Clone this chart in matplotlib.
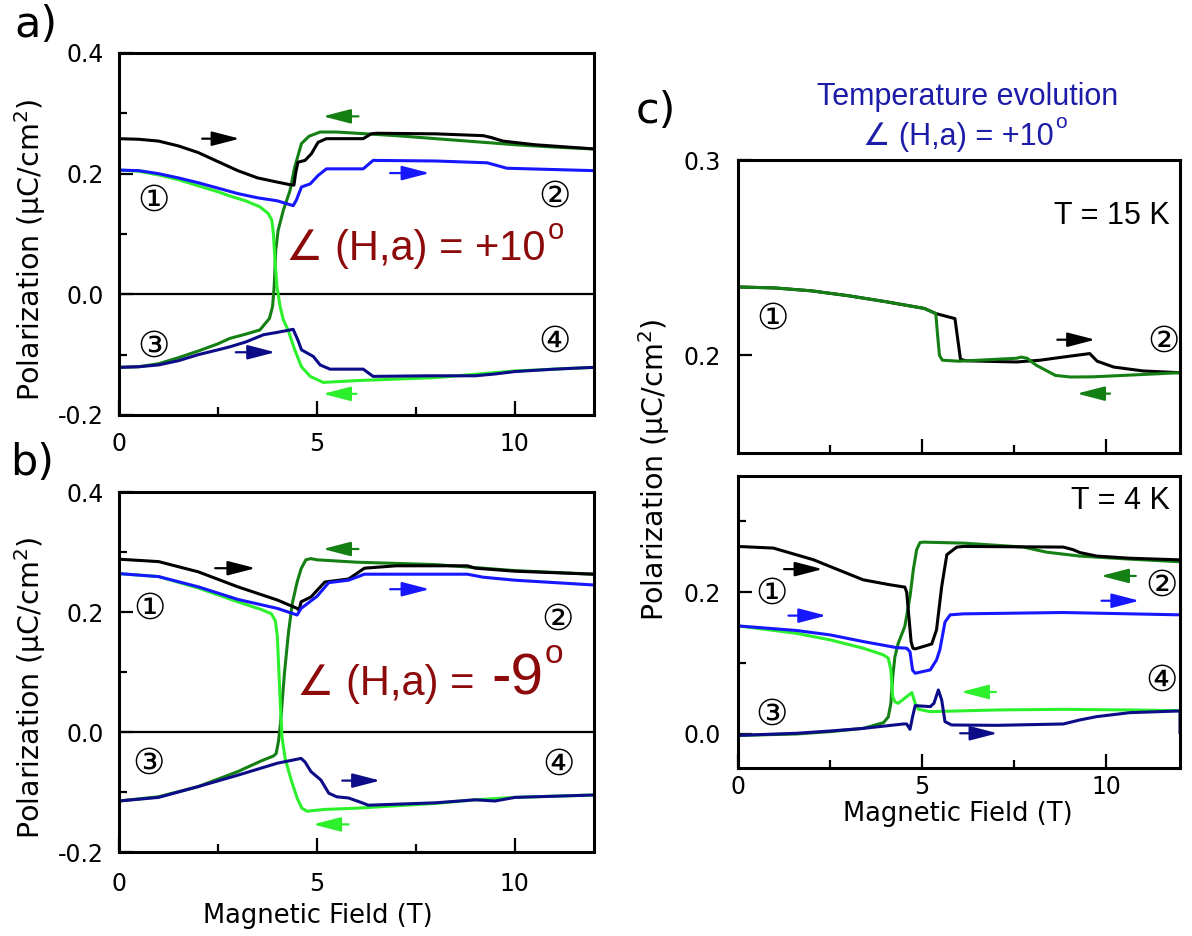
import matplotlib.pyplot as plt
from matplotlib.ticker import FixedLocator, FormatStrFormatter

plt.rcParams['font.family'] = ['DejaVu Sans']
plt.rcParams['mathtext.fontset'] = 'dejavusans'

BLACK = '#000000'
DKGREEN = '#148014'
LTGREEN = '#2cf02c'
BLUE = '#1717ff'
NAVY = '#0c0c88'
ANGLE_RED = '#8c0a0a'
TITLE_BLUE = '#1c1ca8'
SANS = ['Liberation Sans', 'DejaVu Sans']
CIRC = ['DejaVu Serif', 'DejaVu Sans', 'Noto Sans CJK JP']

# ---- panel a: angle +10 deg ----
a_black_x = [0, 0.5, 1.0, 1.5, 2.0, 2.5, 3.0, 3.5, 4.0, 4.3, 4.42, 4.46, 4.52, 4.7, 4.86, 5.03, 5.24, 6.17, 6.37, 6.5, 8.0, 9.2, 9.4, 9.7, 10.5, 12]
a_black_y = [0.258, 0.257, 0.254, 0.246, 0.235, 0.220, 0.205, 0.193, 0.186, 0.182, 0.181, 0.200, 0.219, 0.222, 0.233, 0.252, 0.258, 0.258, 0.266, 0.267, 0.266, 0.263, 0.260, 0.254, 0.248, 0.241]
a_blue_x = [0, 0.5, 1, 1.5, 2, 2.5, 3, 3.5, 4, 4.4, 4.48, 4.61, 4.83, 5.03, 5.24, 6.17, 6.42, 8, 9.3, 9.8, 12]
a_blue_y = [0.206, 0.205, 0.200, 0.193, 0.185, 0.176, 0.167, 0.160, 0.155, 0.147, 0.156, 0.178, 0.183, 0.197, 0.208, 0.208, 0.222, 0.221, 0.218, 0.209, 0.205]
a_ltgreen_x = [0, 0.5, 1, 1.5, 2, 2.5, 2.8, 3.2, 3.56, 3.77, 3.86, 3.9, 3.94, 3.99, 4.07, 4.15, 4.27, 4.44, 4.61, 4.83, 5.16, 6, 8, 10, 12]
a_ltgreen_y = [0.206, 0.204, 0.198, 0.190, 0.180, 0.170, 0.163, 0.155, 0.145, 0.134, 0.123, 0.101, 0.057, 0.013, -0.020, -0.042, -0.059, -0.092, -0.120, -0.136, -0.146, -0.143, -0.138, -0.127, -0.121]
a_dkgreen_x = [0, 0.5, 1, 1.5, 2, 2.5, 2.8, 3.2, 3.56, 3.8, 3.88, 3.92, 3.96, 4.02, 4.15, 4.32, 4.44, 4.61, 4.8, 5.08, 5.5, 6, 7, 8, 9, 10, 11, 12]
a_dkgreen_y = [-0.121, -0.120, -0.115, -0.105, -0.094, -0.082, -0.073, -0.066, -0.059, -0.040, -0.020, 0.013, 0.073, 0.106, 0.139, 0.172, 0.211, 0.250, 0.262, 0.269, 0.269, 0.267, 0.263, 0.258, 0.253, 0.248, 0.244, 0.241]
a_navy_x = [0, 0.5, 1, 1.5, 2, 2.5, 2.8, 3.2, 3.65, 4.0, 4.4, 4.52, 4.61, 4.91, 5.08, 5.33, 6.17, 6.42, 7.85, 9.0, 9.5, 10, 11, 12]
a_navy_y = [-0.121, -0.120, -0.117, -0.110, -0.100, -0.092, -0.087, -0.079, -0.067, -0.063, -0.058, -0.076, -0.092, -0.103, -0.117, -0.124, -0.124, -0.136, -0.135, -0.135, -0.132, -0.128, -0.124, -0.121]

# ---- panel b: angle -9 deg ----
b_black_x = [0, 1, 2, 3, 4, 4.5, 4.55, 4.6, 4.85, 5.2, 5.8, 6.2, 7, 8.8, 9.0, 10, 12]
b_black_y = [0.288, 0.284, 0.267, 0.242, 0.220, 0.206, 0.203, 0.217, 0.225, 0.250, 0.255, 0.273, 0.277, 0.277, 0.273, 0.268, 0.263]
b_blue_x = [0, 1, 2, 3, 4, 4.5, 4.6, 5, 5.3, 5.8, 6.2, 8.8, 9.2, 10, 12]
b_blue_y = [0.264, 0.259, 0.242, 0.221, 0.206, 0.195, 0.206, 0.226, 0.249, 0.253, 0.263, 0.263, 0.258, 0.253, 0.245]
b_ltgreen_x = [0, 1, 2, 3, 3.6, 3.85, 3.95, 4.0, 4.04, 4.08, 4.12, 4.2, 4.35, 4.5, 4.62, 4.75, 5.2, 6, 8, 9, 10, 12]
b_ltgreen_y = [0.264, 0.259, 0.240, 0.217, 0.204, 0.197, 0.185, 0.160, 0.100, 0.040, -0.010, -0.045, -0.080, -0.110, -0.127, -0.132, -0.129, -0.127, -0.119, -0.113, -0.109, -0.105]
b_dkgreen_x = [0, 1, 2, 3, 3.6, 3.9, 3.97, 4.03, 4.08, 4.18, 4.28, 4.38, 4.5, 4.6, 4.72, 4.85, 5.0, 6, 8, 10, 12]
b_dkgreen_y = [-0.115, -0.108, -0.091, -0.066, -0.048, -0.040, -0.036, -0.015, 0.014, 0.098, 0.165, 0.215, 0.250, 0.272, 0.287, 0.289, 0.287, 0.283, 0.279, 0.269, 0.263]
b_navy_x = [0, 1, 2, 3, 4, 4.6, 4.7, 4.85, 5.1, 5.3, 5.5, 5.8, 6.1, 6.3, 8, 9, 9.5, 10, 12]
b_navy_y = [-0.115, -0.109, -0.091, -0.072, -0.052, -0.044, -0.050, -0.066, -0.080, -0.102, -0.108, -0.110, -0.117, -0.122, -0.118, -0.113, -0.115, -0.109, -0.105]

# ---- panel c, T = 15 K ----
c15_black_x = [0, 1, 2, 3, 4, 5.06, 5.37, 5.75, 5.89, 6.04, 6.2, 7.56, 8.2, 8.82, 9.55, 9.75, 10.2, 11, 12]
c15_black_y = [0.235, 0.2345, 0.233, 0.2305, 0.2275, 0.224, 0.2214, 0.2195, 0.2188, 0.198, 0.1972, 0.1966, 0.1975, 0.1991, 0.2009, 0.197, 0.194, 0.192, 0.1911]
c15_green_x = [0, 1, 2, 3, 4, 5.06, 5.37, 5.42, 5.47, 5.55, 6.0, 7.56, 7.69, 7.85, 8.1, 8.62, 9.03, 9.65, 12]
c15_green_y = [0.235, 0.2345, 0.233, 0.2305, 0.2275, 0.224, 0.2214, 0.210, 0.200, 0.1975, 0.197, 0.1985, 0.1991, 0.1985, 0.1949, 0.1897, 0.1889, 0.189, 0.1911]

# ---- panel c, T = 4 K ----
c4_black_x = [0, 0.96, 2.05, 2.5, 3.4, 4.13, 4.53, 4.58, 4.7, 4.75, 4.81, 5.26, 5.39, 5.53, 5.67, 5.94, 6.12, 8.83, 9.1, 9.28, 9.74, 10.64, 12]
c4_black_y = [0.2646, 0.2623, 0.2458, 0.2363, 0.2175, 0.2105, 0.2072, 0.200, 0.130, 0.121, 0.120, 0.127, 0.147, 0.208, 0.253, 0.2637, 0.2646, 0.2637, 0.260, 0.256, 0.251, 0.248, 0.2457]
c4_dkgreen_x = [0, 1.59, 2.5, 3.4, 3.95, 4.08, 4.15, 4.2, 4.26, 4.35, 4.53, 4.67, 4.76, 4.85, 4.94, 5.03, 6.12, 7.75, 8.38, 9.28, 10.64, 12]
c4_dkgreen_y = [-0.002, 0.0, 0.0033, 0.0079, 0.016, 0.024, 0.043, 0.080, 0.109, 0.128, 0.152, 0.194, 0.232, 0.260, 0.270, 0.2707, 0.2693, 0.2637, 0.2565, 0.251, 0.2467, 0.243]
c4_ltgreen_x = [0, 1.59, 2.5, 3.4, 3.95, 4.08, 4.15, 4.2, 4.26, 4.35, 4.58, 4.72, 4.81, 4.9, 5.22, 7.03, 8.83, 10.64, 12]
c4_ltgreen_y = [0.1525, 0.142, 0.1328, 0.121, 0.1116, 0.107, 0.0904, 0.0527, 0.0454, 0.0433, 0.0527, 0.0584, 0.0433, 0.0348, 0.0315, 0.0339, 0.0348, 0.0339, 0.0329]
c4_blue_x = [0, 1.59, 2.5, 3.4, 4.3, 4.58, 4.67, 4.74, 4.81, 5.22, 5.39, 5.48, 5.62, 5.76, 6.12, 8.83, 12]
c4_blue_y = [0.1525, 0.146, 0.1398, 0.1304, 0.1219, 0.121, 0.116, 0.090, 0.0857, 0.0904, 0.1045, 0.1187, 0.158, 0.1681, 0.1695, 0.1714, 0.1681]
c4_navy_x = [0, 1.59, 2.5, 3.4, 4.49, 4.58, 4.67, 4.74, 4.81, 5.22, 5.32, 5.44, 5.53, 5.62, 5.8, 7.03, 8.83, 9.28, 9.74, 10.64, 12, 12]
c4_navy_y = [-0.002, 0.001, 0.0042, 0.0079, 0.0141, 0.0141, 0.0066, 0.0245, 0.040, 0.0386, 0.0433, 0.0621, 0.048, 0.0174, 0.0127, 0.0122, 0.0141, 0.0198, 0.0245, 0.0301, 0.0325, 0.0]

W, H = 1192, 936
fig = plt.figure(figsize=(W / 100, H / 100), dpi=100)


def px_axes(left, top, right, bottom):
    return fig.add_axes([left / W, 1 - bottom / H, (right - left) / W, (bottom - top) / H])


def style(ax, ylim, xmaj, xmin, ymaj, ymin, xlabels, xpad, ypad, fmt='%.1f'):
    ax.set_xlim(0, 12)
    ax.set_ylim(*ylim)
    ax.xaxis.set_major_locator(FixedLocator(xmaj))
    ax.xaxis.set_minor_locator(FixedLocator(xmin))
    ax.yaxis.set_major_locator(FixedLocator(ymaj))
    ax.yaxis.set_minor_locator(FixedLocator(ymin))
    ax.yaxis.set_major_formatter(FormatStrFormatter(fmt))
    ax.xaxis.set_major_formatter(FormatStrFormatter('%d'))
    ax.tick_params(which='both', direction='in', width=1.6, labelsize=17)
    ax.tick_params(which='major', length=10)
    ax.tick_params(which='minor', length=5.5)
    ax.tick_params(axis='x', pad=xpad, labelbottom=xlabels)
    ax.tick_params(axis='y', pad=ypad)
    for s in ax.spines.values():
        s.set_linewidth(2.2)


def curve(ax, x, y, color):
    ax.plot(x, y, color=color, lw=2.2, solid_joinstyle='round', solid_capstyle='butt')


def arrow(ax, x0, x1, y, color):
    ax.annotate('', xy=(x1, y), xytext=(x0, y),
                arrowprops=dict(arrowstyle='-|>,head_length=0.85,head_width=0.22',
                                color=color, lw=1.6, shrinkA=0, shrinkB=0,
                                mutation_scale=20))


def circled(ax, x, y, s):
    ax.text(x, y, s, fontsize=26, family=CIRC, ha='center', va='center')


def degree_text(ax, x, y, s, size, color, osize, transform=None, ha='left'):
    # main text plus a raised small "o" as the degree sign
    kw = dict(fontsize=size, family=SANS, color=color, ha=ha, va='baseline')
    if transform is not None:
        kw['transform'] = transform
    t = ax.text(x, y, s, **kw)
    ax.annotate('o', xy=(1.0, 1.0), xycoords=t, xytext=(1, 0.42 * osize), textcoords='offset points',
                fontsize=osize, family=SANS, color=color, ha='left', va='top',
                annotation_clip=False)
    return t


# ---------------- panel a ----------------
ax_a = px_axes(119, 53, 594, 415)
style(ax_a, (-0.2, 0.4), [0, 5, 10], [2.5, 7.5], [-0.2, 0.0, 0.2, 0.4], [-0.1, 0.1, 0.3], True, 12, 11)
ax_a.axhline(0, color=BLACK, lw=1.6, zorder=1)
curve(ax_a, a_dkgreen_x, a_dkgreen_y, DKGREEN)
curve(ax_a, a_ltgreen_x, a_ltgreen_y, LTGREEN)
curve(ax_a, a_black_x, a_black_y, BLACK)
curve(ax_a, a_blue_x, a_blue_y, BLUE)
curve(ax_a, a_navy_x, a_navy_y, NAVY)
arrow(ax_a, 2.1, 3.05, 0.258, BLACK)
arrow(ax_a, 6.05, 5.15, 0.295, DKGREEN)
arrow(ax_a, 6.85, 7.85, 0.201, BLUE)
arrow(ax_a, 2.95, 3.95, -0.096, NAVY)
arrow(ax_a, 6.0, 5.15, -0.165, LTGREEN)
circled(ax_a, 0.88, 0.156, '\u2460')
circled(ax_a, 11.0, 0.162, '\u2461')
circled(ax_a, 0.88, -0.087, '\u2462')
circled(ax_a, 11.0, -0.078, '\u2463')
degree_text(ax_a, 4.23, 0.057, '\u2220 (H,a) = +10', 30, ANGLE_RED, 21)

# ---------------- panel b ----------------
ax_b = px_axes(119, 492, 594, 852)
style(ax_b, (-0.2, 0.4), [0, 5, 10], [2.5, 7.5], [-0.2, 0.0, 0.2, 0.4], [-0.1, 0.1, 0.3], True, 14.5, 11)
ax_b.axhline(0, color=BLACK, lw=1.6, zorder=1)
curve(ax_b, b_dkgreen_x, b_dkgreen_y, DKGREEN)
curve(ax_b, b_ltgreen_x, b_ltgreen_y, LTGREEN)
curve(ax_b, b_black_x, b_black_y, BLACK)
curve(ax_b, b_blue_x, b_blue_y, BLUE)
curve(ax_b, b_navy_x, b_navy_y, NAVY)
arrow(ax_b, 2.43, 3.45, 0.273, BLACK)
arrow(ax_b, 6.05, 5.15, 0.305, DKGREEN)
arrow(ax_b, 6.85, 7.85, 0.238, BLUE)
arrow(ax_b, 5.64, 6.6, -0.081, NAVY)
arrow(ax_b, 5.8, 4.9, -0.154, LTGREEN)
circled(ax_b, 0.78, 0.206, '\u2460')
circled(ax_b, 11.08, 0.187, '\u2461')
circled(ax_b, 0.75, -0.053, '\u2462')
circled(ax_b, 11.1, -0.055, '\u2463')
ax_b.text(4.5, 0.062, '\u2220 (H,a) =', fontsize=30, family=SANS,
          color=ANGLE_RED, ha='left', va='baseline')
degree_text(ax_b, 9.4, 0.062, '-9', 42, ANGLE_RED, 24)

# ---------------- panel c, 15 K ----------------
ax_c1 = px_axes(738, 160, 1180, 453)
style(ax_c1, (0.15, 0.3), [5, 10], [2.5, 7.5], [0.2, 0.3], [], False, 7, 12)
curve(ax_c1, c15_black_x, c15_black_y, BLACK)
curve(ax_c1, c15_green_x, c15_green_y, DKGREEN)
arrow(ax_c1, 8.67, 9.7, 0.208, BLACK)
arrow(ax_c1, 10.1, 9.2, 0.1804, DKGREEN)
circled(ax_c1, 0.94, 0.2188, '\u2460')
circled(ax_c1, 11.56, 0.2068, '\u2461')
ax_c1.text(11.73, 0.267, 'T = 15 K', fontsize=22, family=SANS, ha='right', va='baseline')

# ---------------- panel c, 4 K ----------------
ax_c2 = px_axes(738, 476, 1180, 768)
style(ax_c2, (-0.048, 0.364), [0, 5, 10], [2.5, 7.5], [0.0, 0.2], [0.1, 0.3], True, 5, 12)
curve(ax_c2, c4_dkgreen_x, c4_dkgreen_y, DKGREEN)
curve(ax_c2, c4_ltgreen_x, c4_ltgreen_y, LTGREEN)
curve(ax_c2, c4_black_x, c4_black_y, BLACK)
curve(ax_c2, c4_blue_x, c4_blue_y, BLUE)
curve(ax_c2, c4_navy_x, c4_navy_y, NAVY)
arrow(ax_c2, 1.25, 2.3, 0.2326, BLACK)
arrow(ax_c2, 10.8, 9.85, 0.223, DKGREEN)
arrow(ax_c2, 9.87, 10.9, 0.188, BLUE)
arrow(ax_c2, 1.37, 2.4, 0.167, BLUE)
arrow(ax_c2, 7.0, 6.05, 0.0593, LTGREEN)
arrow(ax_c2, 6.03, 7.05, 0.001, NAVY)
circled(ax_c2, 0.91, 0.1987, '\u2460')
circled(ax_c2, 11.5, 0.21, '\u2461')
circled(ax_c2, 0.91, 0.0268, '\u2462')
circled(ax_c2, 11.5, 0.0753, '\u2463')
ax_c2.text(11.73, 0.317, 'T = 4 K', fontsize=22, family=SANS, ha='right', va='baseline')

# ---------------- labels and titles ----------------
ylab = 'Polarization (\u03bcC/cm$^2$)'
fig.text(30 / W, 1 - 250 / H, ylab, rotation=90, fontsize=20.5, ha='center', va='center')
fig.text(30 / W, 1 - 688 / H, ylab, rotation=90, fontsize=20.5, ha='center', va='center')
fig.text(654 / W, 1 - 470 / H, ylab, rotation=90, fontsize=20.5, ha='center', va='center')
fig.text(318 / W, 1 - 923 / H, 'Magnetic Field (T)', fontsize=18.5, ha='center', va='baseline')
fig.text(958 / W, 1 - 821 / H, 'Magnetic Field (T)', fontsize=18.5, ha='center', va='baseline')

fig.text(968 / W, 1 - 105 / H, 'Temperature evolution', fontsize=22, family=SANS,
         color=TITLE_BLUE, ha='center', va='baseline')
degree_text(ax_c1, 958 / W, 1 - 145 / H, '\u2220 (H,a) = +10', 22, TITLE_BLUE, 15,
            transform=fig.transFigure, ha='center')

fig.text(14 / W, 1 - 37 / H, 'a)', fontsize=31, ha='left', va='baseline')
fig.text(10 / W, 1 - 475 / H, 'b)', fontsize=31, ha='left', va='baseline')
fig.text(636 / W, 1 - 123 / H, 'c)', fontsize=31, ha='left', va='baseline')

fig.savefig('out.png', dpi=100)
